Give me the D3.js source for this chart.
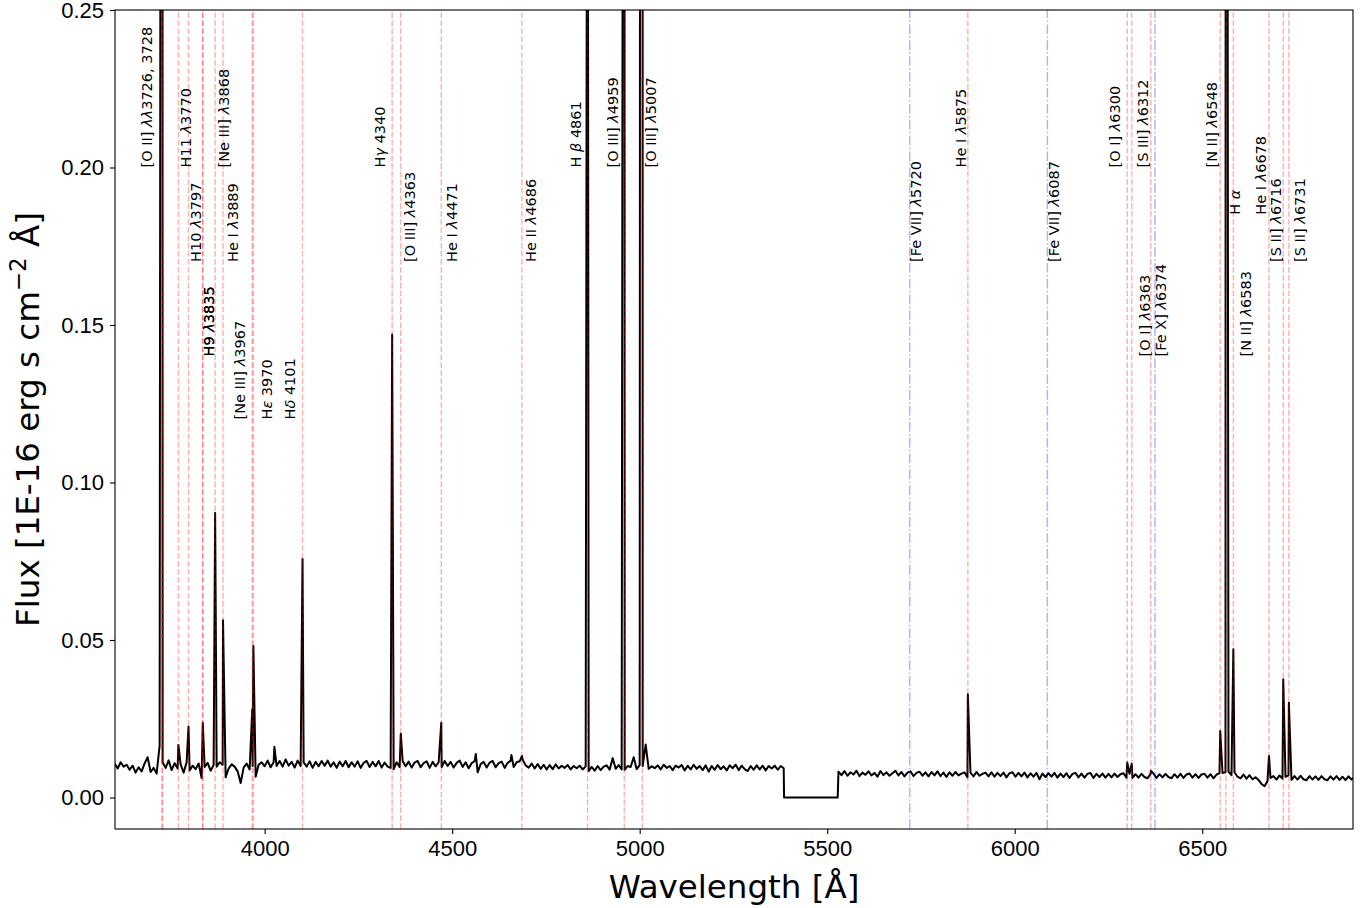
<!DOCTYPE html>
<html lang="en">
<head>
  <meta charset="UTF-8">
  <title>Emission line spectrum</title>
  <script src="https://d3js.org/d3.v7.min.js"></script>
  <style>
    body { margin: 0; background: #fff; }
    svg { display: block; font-family: "DejaVu Sans", sans-serif; }
    .tick text { font-size: 22px; fill: #000; }
    .line-label { font-size: 14.5px; fill: #000; }
    .axis-title { font-size: 32.5px; fill: #000; }
  </style>
</head>
<body>
  <script>
    // continuum, blue arm: starts 3600 A, one value every 8 A
    const blueStart = 3600;
    const blueFlux = [
      .0108,.0092,.0112,.0098,.0104,.0088,.0101,.0079,.0096,.0083,
      .0108,.0128,.0081,.0094,.0076,.0165,.0112,.0094,.0118,.0087,
      .0109,.0092,.0105,.0079,.0112,.0086,.0101,.0090,.0108,.0062,
      .0097,.0110,.0085,.0103,.0098,.0112,.0104,.0064,.0092,.0105,
      .0098,.0083,.0046,.0095,.0108,.0089,.0100,.0066,.0104,.0112,
      .0099,.0117,.0096,.0112,.0100,.0116,.0098,.0121,.0101,.0113,
      .0095,.0117,.0100,.0112,.0098,.0115,.0094,.0113,.0099,.0116,
      .0101,.0117,.0098,.0112,.0094,.0114,.0099,.0116,.0096,.0112,
      .0098,.0115,.0094,.0110,.0116,.0097,.0113,.0099,.0116,.0095,
      .0111,.0098,.0094,.0090,.0112,.0097,.0116,.0099,.0114,.0095,
      .0111,.0116,.0096,.0109,.0115,.0094,.0113,.0099,.0112,.0097,
      .0116,.0100,.0113,.0095,.0110,.0117,.0097,.0112,.0093,.0109,
      .0116,.0080,.0106,.0113,.0095,.0111,.0116,.0096,.0109,.0114,
      .0094,.0110,.0117,.0097,.0112,.0115,.0120,.0102,.0095,.0108,
      .0092,.0106,.0091,.0104,.0089,.0103,.0090,.0105,.0092,.0101,
      .0094,.0103,.0089,.0100,.0093,.0101,.0089,.0099,.0084,.0097,
      .0085,.0100,.0087,.0098,.0102,.0088,.0125,.0091,.0103,.0089,
      .0088,.0100,.0097,.0128,.0090,.0103,.0100,.0168,.0091,.0099,
      .0093,.0102,.0089,.0104,.0094,.0100,.0087,.0101,.0095,.0103,
      .0086,.0101,.0089,.0104,.0091,.0100,.0087,.0102,.0082,.0100,
      .0088,.0103,.0090,.0099,.0086,.0102,.0093,.0104,.0087,.0101,
      .0090,.0084,.0100,.0088,.0102,.0089,.0101,.0086,.0100,.0092,
      .0101,.0088,.0100,.0093
    ];
    // chip gap, flux is zero
    const gapWave = [5385, 5528];
    const gapFlux = [0, 0];
    // continuum, red arm: starts 5530 A, one value every 8 A
    const redStart = 5530;
    const redFlux = [
      .0082,.0071,.0084,.0069,.0080,.0073,.0085,.0068,.0079,.0072,
      .0083,.0070,.0078,.0066,.0084,.0071,.0080,.0069,.0077,.0085,
      .0070,.0081,.0067,.0079,.0083,.0068,.0078,.0082,.0069,.0080,
      .0067,.0081,.0070,.0083,.0068,.0079,.0065,.0080,.0069,.0081,
      .0070,.0076,.0080,.0064,.0079,.0067,.0081,.0069,.0075,.0079,
      .0067,.0080,.0066,.0078,.0068,.0079,.0064,.0077,.0080,.0066,
      .0078,.0067,.0079,.0064,.0077,.0066,.0078,.0058,.0076,.0065,
      .0077,.0066,.0078,.0063,.0076,.0065,.0077,.0062,.0075,.0078,
      .0064,.0076,.0063,.0075,.0078,.0062,.0075,.0065,.0076,.0063,
      .0075,.0064,.0076,.0065,.0074,.0077,.0063,.0075,.0062,.0074,
      .0063,.0075,.0065,.0061,.0074,.0076,.0062,.0074,.0064,.0075,
      .0065,.0061,.0074,.0063,.0075,.0062,.0073,.0076,.0063,.0074,
      .0062,.0073,.0075,.0063,.0074,.0061,.0073,.0077,.0078,.0080,
      .0082,.0071,.0080,.0066,.0061,.0073,.0060,.0071,.0058,.0064,
      .0056,.0043,.0036,.0052,.0062,.0068,.0057,.0070,.0060,.0066,
      .0070,.0056,.0068,.0057,.0069,.0058,.0055,.0068,.0057,.0067,
      .0056,.0068,.0058,.0055,.0067,.0057,.0068,.0056,.0066,.0055,
      .0067,.0057,.0065
    ];
    const step = 8;

    // emission line peaks (off-scale ones just set high)
    const peakWave = [3727, 3770, 3797, 3835, 3868, 3889, 3967, 3970, 4026, 4101,
      4340, 4363, 4471, 4563, 4658, 4686, 4861, 4959, 5007,
      5875, 6300, 6312, 6363, 6548, 6563, 6583, 6678, 6716, 6731];
    const peakFlux = [0.9, 0.0167, 0.0225, 0.0237, 0.0903, 0.0563, 0.0280, 0.0481, 0.0161, 0.0757,
      0.147, 0.0202, 0.0237, 0.0138, 0.0135, 0.0132, 0.45, 0.75, 2.2,
      0.0328, 0.0111, 0.0107, 0.0085, 0.0211, 0.8, 0.0471, 0.0132, 0.0375, 0.0301];

    // marked lines
    const redLines = [3726, 3728, 3770, 3797, 3835, 3835, 3868, 3889, 3967, 3970, 4101,
      4340, 4363, 4471, 4686, 4861, 4959, 5007, 5875, 6300, 6312, 6363,
      6548, 6563, 6583, 6678, 6716, 6731];
    const blueLines = [5720, 6087, 6374];

    // labels: text, where the label sits (wavelength, flux of its lower end)
    const labelText = [
      '[O II] λλ3726, 3728', 'H11 λ3770', 'H10 λ3797', 'H9 λ3835', 'H9 λ3835',
      '[Ne III] λ3868', 'He I λ3889', '[Ne III] λ3967', 'Hε 3970', 'Hδ 4101',
      'Hγ 4340', '[O III] λ4363', 'He I λ4471', 'He II λ4686', 'H β 4861',
      '[O III] λ4959', '[O III] λ5007', '[Fe VII] λ5720', 'He I λ5875', '[Fe VII] λ6087',
      '[O I] λ6300', '[S III] λ6312', '[O I] λ6363', '[Fe X] λ6374', '[N II] λ6548',
      'H α', '[N II] λ6583', 'He I λ6678', '[S II] λ6716', '[S II] λ6731'
    ];
    const labelWave = [3685, 3790, 3817, 3850, 3850, 3890, 3916, 3934, 4005, 4066,
      4307, 4387, 4498, 4710, 4830, 4927, 5029, 5737, 5856, 6104,
      6266, 6341, 6348, 6390, 6525, 6588, 6615, 6655, 6697, 6761];
    const labelFlux = [0.20, 0.20, 0.17, 0.14, 0.14, 0.20, 0.17, 0.12, 0.12, 0.12,
      0.20, 0.17, 0.17, 0.17, 0.20, 0.20, 0.20, 0.17, 0.20, 0.17,
      0.20, 0.20, 0.14, 0.14, 0.20, 0.185, 0.14, 0.185, 0.17, 0.17];

    const xTicks = [4000, 4500, 5000, 5500, 6000, 6500];
    const yTicks = [0.00, 0.05, 0.10, 0.15, 0.20, 0.25];

    const width = 1369, height = 908;
    const margin = { top: 10, right: 16, bottom: 79, left: 115 };

    const svg = d3.select('body').append('svg')
      .attr('width', width)
      .attr('height', height);

    const x = d3.scaleLinear().domain([3601, 6902]).range([margin.left, width - margin.right]);
    const y = d3.scaleLinear().domain([-0.01, 0.25]).range([height - margin.bottom, margin.top]);

    svg.append('clipPath').attr('id', 'plot-clip')
      .append('rect')
      .attr('x', margin.left).attr('y', margin.top)
      .attr('width', width - margin.left - margin.right)
      .attr('height', height - margin.top - margin.bottom);

    // build spectrum
    let spec = [];
    blueFlux.forEach((f, i) => spec.push([blueStart + i * step, f]));
    gapWave.forEach((w, i) => spec.push([w, gapFlux[i]]));
    redFlux.forEach((f, i) => spec.push([redStart + i * step, f]));
    peakWave.forEach((w, i) => spec.push([w, peakFlux[i]]));
    spec.sort((a, b) => a[0] - b[0]);

    const plot = svg.append('g').attr('clip-path', 'url(#plot-clip)');

    plot.append('path')
      .datum(spec)
      .attr('fill', 'none')
      .attr('stroke', '#000')
      .attr('stroke-width', 2)
      .attr('stroke-linejoin', 'round')
      .attr('d', d3.line().x(d => x(d[0])).y(d => y(d[1])));

    plot.selectAll('.red-line')
      .data(redLines)
      .join('line')
      .attr('class', 'red-line')
      .attr('x1', d => x(d)).attr('x2', d => x(d))
      .attr('y1', y(-0.01)).attr('y2', y(0.25))
      .attr('stroke', 'rgba(255,0,0,0.3)')
      .attr('stroke-width', 1.5)
      .attr('stroke-dasharray', '5.55,2.4');

    plot.selectAll('.blue-line')
      .data(blueLines)
      .join('line')
      .attr('class', 'blue-line')
      .attr('x1', d => x(d)).attr('x2', d => x(d))
      .attr('y1', y(-0.01)).attr('y2', y(0.25))
      .attr('stroke', 'rgba(0,0,255,0.3)')
      .attr('stroke-width', 1.5)
      .attr('stroke-dasharray', '9.6,2.4,1.5,2.4');

    // labels, greek letters in italics
    const greek = /([λαβγδε]+)/;
    labelText.forEach((t, i) => {
      const txt = svg.append('text')
        .attr('class', 'line-label')
        .attr('transform', `translate(${x(labelWave[i])},${y(labelFlux[i])}) rotate(-90)`)
        .attr('dy', '0.36em');
      t.split(greek).filter(s => s.length).forEach(s => {
        txt.append('tspan')
          .style('font-style', greek.test(s) ? 'italic' : 'normal')
          .text(s);
      });
    });

    // axes
    const xAxis = svg.append('g')
      .attr('transform', `translate(0,${height - margin.bottom})`)
      .call(d3.axisBottom(x).tickValues(xTicks).tickFormat(d3.format('d')).tickSize(5).tickPadding(6));
    const yAxis = svg.append('g')
      .attr('transform', `translate(${margin.left},0)`)
      .call(d3.axisLeft(y).tickValues(yTicks).tickFormat(d3.format('.2f')).tickSize(5).tickPadding(6));
    [xAxis, yAxis].forEach(a => {
      a.select('.domain').remove();
      a.selectAll('.tick line').attr('stroke', '#000').attr('stroke-width', 1.1);
    });

    // frame
    svg.append('rect')
      .attr('x', margin.left).attr('y', margin.top)
      .attr('width', width - margin.left - margin.right)
      .attr('height', height - margin.top - margin.bottom)
      .attr('fill', 'none')
      .attr('stroke', '#000')
      .attr('stroke-width', 1.1);

    svg.append('text')
      .attr('class', 'axis-title')
      .attr('x', (margin.left + width - margin.right) / 2)
      .attr('y', 898)
      .attr('text-anchor', 'middle')
      .text('Wavelength [Å]');

    const yTitle = svg.append('text')
      .attr('class', 'axis-title')
      .attr('text-anchor', 'middle')
      .attr('transform', `translate(39,${(margin.top + height - margin.bottom) / 2}) rotate(-90)`);
    yTitle.append('tspan').text('Flux [1E-16 erg s cm');
    yTitle.append('tspan').attr('dy', -13).style('font-size', '23px').text('−2');
    yTitle.append('tspan').attr('dy', 13).text(' Å]');
  </script>
</body>
</html>
